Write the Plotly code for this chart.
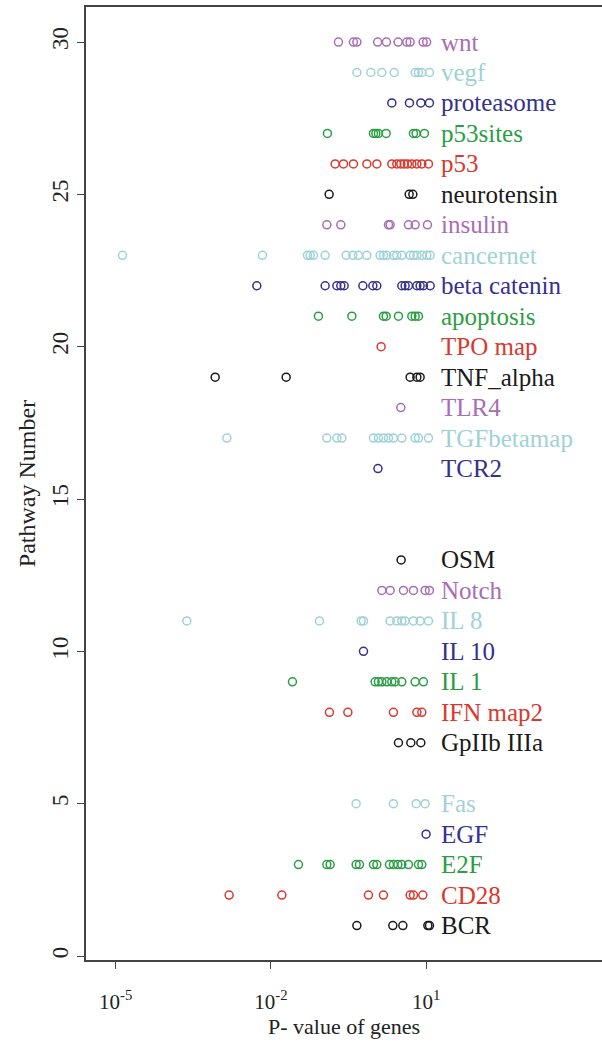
import numpy as np
import plotly.graph_objects as go

pathways = ["BCR", "CD28", "E2F", "EGF", "Fas", "", "GpIIb IIIa", "IFN map2", "IL 1", "IL 10",
            "IL 8", "Notch", "OSM", "", "", "TCR2", "TGFbetamap", "TLR4", "TNF_alpha", "TPO map",
            "apoptosis", "beta catenin", "cancernet", "insulin", "neurotensin", "p53", "p53sites",
            "proteasome", "vegf", "wnt"]

# log10 of p-values, one list per pathway number 1..30
log_p = {
    1: [-0.338, 0.357, 0.551, 1.034, 1.066],
    2: [-2.807, -1.788, -0.114, 0.176, 0.692, 0.756, 0.937],
    3: [-1.467, -0.918, -0.854, -0.352, -0.288, -0.017, 0.048, 0.292, 0.369, 0.454, 0.531, 0.659, 0.853, 0.918],
    4: [1.0],
    5: [-0.352, 0.369, 0.808, 0.982],
    6: [],
    7: [0.466, 0.705, 0.899],
    8: [-0.868, -0.512, 0.369, 0.822, 0.918],
    9: [-1.583, 0.015, 0.079, 0.145, 0.241, 0.338, 0.402, 0.531, 0.789, 0.949],
    10: [-0.21],
    11: [-3.625, -1.061, -0.255, -0.21, 0.305, 0.434, 0.531, 0.595, 0.756, 0.885, 1.046],
    12: [0.145, 0.305, 0.563, 0.756, 0.982, 1.065],
    13: [0.518],
    14: [],
    15: [],
    16: [0.07],
    17: [-2.851, -0.918, -0.725, -0.628, -0.017, 0.079, 0.176, 0.273, 0.369, 0.531, 0.789, 0.853, 1.046],
    18: [0.512],
    19: [-3.077, -1.705, 0.692, 0.822, 0.885],
    20: [0.131],
    21: [-1.081, -0.435, 0.176, 0.228, 0.466, 0.725, 0.789, 0.853],
    22: [-2.272, -0.951, -0.725, -0.648, -0.584, -0.222, -0.029, 0.048, 0.531, 0.595, 0.659, 0.822, 0.885, 0.949, 1.079],
    23: [-4.869, -2.163, -1.293, -1.241, -1.177, -0.951, -0.545, -0.416, -0.307, -0.145, 0.112, 0.176, 0.241,
         0.369, 0.434, 0.531, 0.692, 0.756, 0.822, 0.918, 1.015, 1.079],
    24: [-0.918, -0.648, 0.273, 0.305, 0.659, 0.789, 1.027],
    25: [-0.874, 0.673, 0.744],
    26: [-0.758, -0.597, -0.404, -0.145, 0.048, 0.338, 0.435, 0.512, 0.576, 0.64, 0.725, 0.822, 0.918, 1.046],
    27: [-0.907, -0.017, 0.029, 0.079, 0.228, 0.756, 0.808, 0.968],
    28: [0.338, 0.679, 0.899, 1.065],
    29: [-0.338, -0.068, 0.145, 0.383, 0.789, 0.853, 0.918, 1.065],
    30: [-0.694, -0.404, -0.338, 0.064, 0.234, 0.46, 0.628, 0.692, 0.943, 1.011],
}

palette = ["#1a1a1a", "#d9392f", "#2a9e44", "#35318c", "#9fd2d7", "#a96db5"]
label_x = 18.0
x_tickvals = [1e-5, 1e-2, 1e1]
x_ticktext = ["10<sup>-5</sup>", "10<sup>-2</sup>", "10<sup>1</sup>"]
y_tickvals = [0, 5, 10, 15, 20, 25, 30]

font = "Liberation Serif"
fig = go.Figure()
annotations = []
for i in range(1, 31):
    col = palette[(i - 1) % 6]
    vals = [10 ** v for v in log_p[i]]
    if vals:
        fig.add_trace(go.Scatter(
            x=vals, y=[i] * len(vals), mode="markers",
            marker=dict(symbol="circle-open", size=8, color=col, line=dict(width=1.5, color=col)),
            showlegend=False, hoverinfo="x+y"))
    name = pathways[i - 1]
    if name:
        annotations.append(dict(x=np.log10(label_x), y=i, xref="x", yref="y", text=name,
                                showarrow=False, xanchor="left", yanchor="middle",
                                font=dict(family=font, size=25, color=col)))

fig.update_layout(
    width=602, height=1054,
    margin=dict(l=86, r=0, t=7, b=94),
    plot_bgcolor="white", paper_bgcolor="white",
    annotations=annotations,
    font=dict(family=font, size=21, color="#222"),
    xaxis=dict(type="log", range=[-5.574, 4.401], tickvals=x_tickvals, ticktext=x_ticktext,
               showgrid=False, zeroline=False, showline=True, mirror=True, linecolor="#444",
               linewidth=1.5, ticks="outside", ticklen=7, tickwidth=1.2, tickcolor="#444",
               ticklabelstandoff=15, automargin=False,
               title=dict(text="P- value of genes", font=dict(family=font, size=22), standoff=3)),
    yaxis=dict(range=[-0.131, 31.15], tickvals=y_tickvals, showgrid=False, zeroline=False,
               showline=True, mirror=False, linecolor="#444", linewidth=1.5, automargin=False,
               ticks="outside", ticklen=7, tickwidth=1.2, tickcolor="#444", tickangle=-90,
               tickfont=dict(family=font, size=23),
               title=dict(text="Pathway Number", font=dict(family=font, size=24), standoff=6)),
)

fig.write_html("out.html", config={"displayModeBar": False},
               post_script="document.body.style.margin='0';document.body.style.overflow='hidden';")
